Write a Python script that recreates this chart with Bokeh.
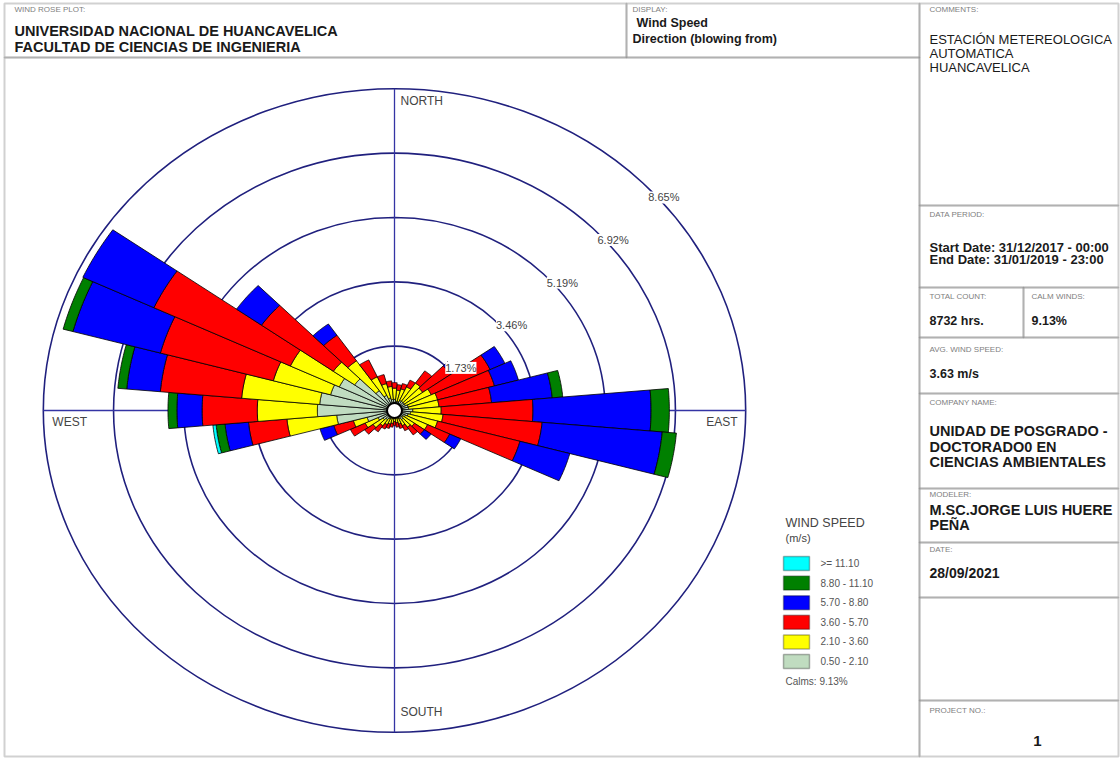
import numpy as np
from bokeh.plotting import figure
from bokeh.models import Range1d, Label, BoxAnnotation, ColumnDataSource
from bokeh.embed import file_html
from bokeh.resources import INLINE

# ---------------- data ----------------
directions = [10, 20, 30, 40, 50, 60, 70, 80, 90, 100, 110, 120, 130, 140, 150, 160, 170, 180,
              190, 200, 210, 220, 230, 240, 250, 260, 270, 280, 290, 300, 310, 320, 330, 340, 350, 360]
speed_classes = ["0.50 - 2.10", "2.10 - 3.60", "3.60 - 5.70", "5.70 - 8.80", "8.80 - 11.10", ">= 11.10"]
class_colors = ["#c0dcc0", "#ffff00", "#ff0000", "#0000ff", "#008000", "#00ffff"]

freq_050_210 = [0.25, 0.25, 0.30, 0.30, 0.30, 0.30, 0.35, 0.35, 0.45, 0.40, 0.35, 0.30,
                0.25, 0.30, 0.25, 0.22, 0.20, 0.18, 0.20, 0.22, 0.25, 0.30, 0.35, 0.45,
                0.70, 1.43, 1.90, 1.85, 1.63, 1.50, 1.20, 0.65, 0.45, 0.35, 0.30, 0.30]
freq_210_360 = [0.30, 0.35, 0.40, 0.60, 0.55, 0.70, 0.75, 0.75, 0.70, 0.80, 0.75, 0.60,
                0.35, 0.25, 0.20, 0.16, 0.13, 0.12, 0.15, 0.16, 0.17, 0.20, 0.30, 0.35,
                0.35, 1.23, 1.48, 1.93, 1.46, 1.33, 0.64, 0.98, 0.55, 0.40, 0.35, 0.30]
freq_360_570 = [0.15, 0.15, 0.20, 0.40, 0.85, 1.60, 1.45, 1.30, 2.26, 2.45, 2.10, 0.60,
                0.30, 0.25, 0.15, 0.12, 0.12, 0.10, 0.10, 0.12, 0.13, 0.20, 0.25, 0.40,
                0.50, 0.95, 1.36, 2.01, 2.88, 3.71, 2.16, 0.84, 0.50, 0.25, 0.15, 0.15]
freq_570_880 = [0, 0, 0, 0, 0.15, 0.40, 0.61, 1.50, 2.91, 2.97, 1.27, 0.30,
                0.20, 0, 0, 0, 0, 0, 0, 0, 0, 0, 0, 0,
                0.35, 0.58, 0.62, 0.83, 2.23, 1.93, 0.75, 0.37, 0, 0, 0, 0]
freq_880_1110 = [0, 0, 0, 0, 0, 0, 0, 0.26, 0.45, 0.35, 0, 0,
                 0, 0, 0, 0, 0, 0, 0, 0, 0, 0, 0, 0,
                 0, 0.22, 0.22, 0.22, 0.25, 0, 0, 0, 0, 0, 0, 0]
freq_ge_1110 = [0, 0, 0, 0, 0, 0, 0, 0, 0, 0, 0, 0,
                0, 0, 0, 0, 0, 0, 0, 0, 0, 0, 0, 0,
                0, 0.08, 0, 0, 0, 0, 0, 0, 0, 0, 0, 0]

ring_values = [1.73, 3.46, 5.19, 6.92, 8.65]
calm_pct = 9.13
compass = ["NORTH", "EAST", "SOUTH", "WEST"]

W, H = 1120, 758
CX, CY = 394, 410          # rose centre in page pixels (from top)
KX, KY = 40.6, 37.2        # page pixels per percent (x, y)


def sy(ytop):
    return H - ytop


p = figure(width=W, height=H, output_backend="svg", toolbar_location=None,
           x_axis_location=None, y_axis_location=None, min_border=0,
           x_range=Range1d(-CX / KX, (W - CX) / KX),
           y_range=Range1d(-(H - CY) / KY, CY / KY),
           outline_line_color=None, background_fill_color="white",
           border_fill_color="white")
p.xgrid.visible = False
p.ygrid.visible = False

# ---------------- rings and axes ----------------
rmax = ring_values[-1]
p.ellipse(x=[0] * len(ring_values), y=[0] * len(ring_values),
          width=[2 * r for r in ring_values], height=[2 * r for r in ring_values],
          fill_color=None, line_color="#20207e", line_width=1.6)
p.segment(x0=[0, -rmax], y0=[-rmax, 0], x1=[0, rmax], y1=[rmax, 0],
          line_color="#3434a4", line_width=1.3)

# ---------------- petals ----------------
classes = [freq_050_210, freq_210_360, freq_360_570, freq_570_880, freq_880_1110, freq_ge_1110]
xs, ys, cols = [], [], []
half = 5.0
for i, d in enumerate(directions):
    cum = 0.0
    th = np.radians(np.linspace(d - half, d + half, 21))
    for k, arr in enumerate(classes):
        v = arr[i]
        if v <= 0:
            continue
        r0, r1 = cum, cum + v
        cum = r1
        ox = r1 * np.sin(th)
        oy = r1 * np.cos(th)
        ix = r0 * np.sin(th[::-1])
        iy = r0 * np.cos(th[::-1])
        xs.append(list(np.concatenate([ox, ix])))
        ys.append(list(np.concatenate([oy, iy])))
        cols.append(class_colors[k])

src = ColumnDataSource(dict(xs=xs, ys=ys, c=cols))
p.patches("xs", "ys", source=src, fill_color="c", line_color="black", line_width=0.8)

# calm circle
p.scatter(x=[0], y=[0], size=15, fill_color="white", line_color="black", line_width=2)

# ring labels
lab_b = np.radians(47.5)
for r in ring_values:
    rr = 0.98 * r
    p.add_layout(Label(x=rr * np.sin(lab_b), y=rr * np.cos(lab_b), text=f"{r:.2f}%",
                       text_align="left", text_baseline="middle",
                       text_font="Liberation Sans", text_font_size="11px", text_color="#444444",
                       background_fill_color="white"))

# compass labels
cfont = dict(text_font="Liberation Sans", text_font_size="12px", text_color="#444444",
             text_baseline="middle")
p.add_layout(Label(x=0, y=rmax, x_offset=6, y_offset=-12, text=compass[0], text_align="left", **cfont))
p.add_layout(Label(x=rmax, y=0, x_offset=-8, y_offset=-11, text=compass[1], text_align="right", **cfont))
p.add_layout(Label(x=0, y=-rmax, x_offset=6, y_offset=20, text=compass[2], text_align="left", **cfont))
p.add_layout(Label(x=-rmax, y=0, x_offset=9, y_offset=-11, text=compass[3], text_align="left", **cfont))


# ---------------- frame boxes ----------------
def box(l, t, r, b, color="#666666", lw=2):
    p.add_layout(BoxAnnotation(left=l, right=r, top=sy(t), bottom=sy(b),
                               left_units="screen", right_units="screen",
                               top_units="screen", bottom_units="screen",
                               fill_alpha=0, line_color=color, line_width=lw))


box(4, 3, 626, 57)
box(626, 3, 919, 57)
box(4, 57, 919, 756)
for (t, b) in [(3, 205), (205, 287), (337, 393), (393, 488), (488, 542), (542, 597), (597, 700), (700, 756)]:
    box(919, t, 1118, b)
box(919, 287, 1023, 337)
box(1023, 287, 1118, 337)


def txt(x, ytop, s, size, bold=False, color="#1a1a1a", align="left"):
    p.add_layout(Label(x=x, y=sy(ytop), x_units="screen", y_units="screen", text=s,
                       text_font="Liberation Sans", text_font_size=f"{size}px",
                       text_font_style="bold" if bold else "normal",
                       text_color=color, text_align=align, text_baseline="middle"))


small = "#808080"
# header
txt(14, 9, "WIND ROSE PLOT:", 8, color=small)
txt(14, 30, "UNIVERSIDAD NACIONAL DE HUANCAVELICA", 14.5, bold=True)
txt(14, 46, "FACULTAD DE CIENCIAS DE INGENIERIA", 14.5, bold=True)
txt(632, 9, "DISPLAY:", 8, color=small)
txt(636, 22, "Wind Speed", 12.5, bold=True)
txt(632, 38, "Direction (blowing from)", 12.5, bold=True)

# right column
txt(929, 9, "COMMENTS:", 8, color=small)
txt(929, 39, "ESTACIÓN METEREOLOGICA", 13)
txt(929, 53, "AUTOMATICA", 13)
txt(929, 67, "HUANCAVELICA", 13)
txt(929, 214, "DATA PERIOD:", 8, color=small)
txt(929, 247, "Start Date: 31/12/2017 - 00:00", 13, bold=True)
txt(929, 259, "End Date: 31/01/2019 - 23:00", 13, bold=True)
txt(929, 296, "TOTAL COUNT:", 8, color=small)
txt(929, 320, "8732 hrs.", 12.5, bold=True)
txt(1031, 296, "CALM WINDS:", 8, color=small)
txt(1031, 320, f"{calm_pct:.2f}%", 12.5, bold=True)
txt(929, 349, "AVG. WIND SPEED:", 8, color=small)
txt(929, 373, "3.63 m/s", 12.5, bold=True)
txt(929, 402, "COMPANY NAME:", 8, color=small)
txt(929, 430, "UNIDAD DE POSGRADO -", 14.5, bold=True)
txt(929, 446, "DOCTORADO0 EN", 14.5, bold=True)
txt(929, 461, "CIENCIAS AMBIENTALES", 14.5, bold=True)
txt(929, 494, "MODELER:", 8, color=small)
txt(929, 509, "M.SC.JORGE LUIS HUERE", 14.5, bold=True)
txt(929, 524, "PEÑA", 14.5, bold=True)
txt(929, 549, "DATE:", 8, color=small)
txt(929, 572, "28/09/2021", 14, bold=True)
txt(929, 710, "PROJECT NO.:", 8, color=small)
txt(1037, 740, "1", 15, bold=True, align="center")

# legend
txt(785, 522, "WIND SPEED", 12.5, color="#444444")
txt(785, 537, "(m/s)", 11, color="#444444")
for j in range(len(speed_classes)):
    k = len(speed_classes) - 1 - j
    yc = 563 + 19.6 * j
    p.add_layout(BoxAnnotation(left=783, right=809, top=sy(yc - 7), bottom=sy(yc + 7),
                               left_units="screen", right_units="screen",
                               top_units="screen", bottom_units="screen",
                               fill_color=class_colors[k], fill_alpha=1,
                               line_color="black", line_width=1.5))
    txt(820, yc, speed_classes[k], 10, color="#555555")
txt(785, 681, f"Calms: {calm_pct:.2f}%", 10, color="#555555")

open("out.html", "w").write(file_html(p, INLINE))
